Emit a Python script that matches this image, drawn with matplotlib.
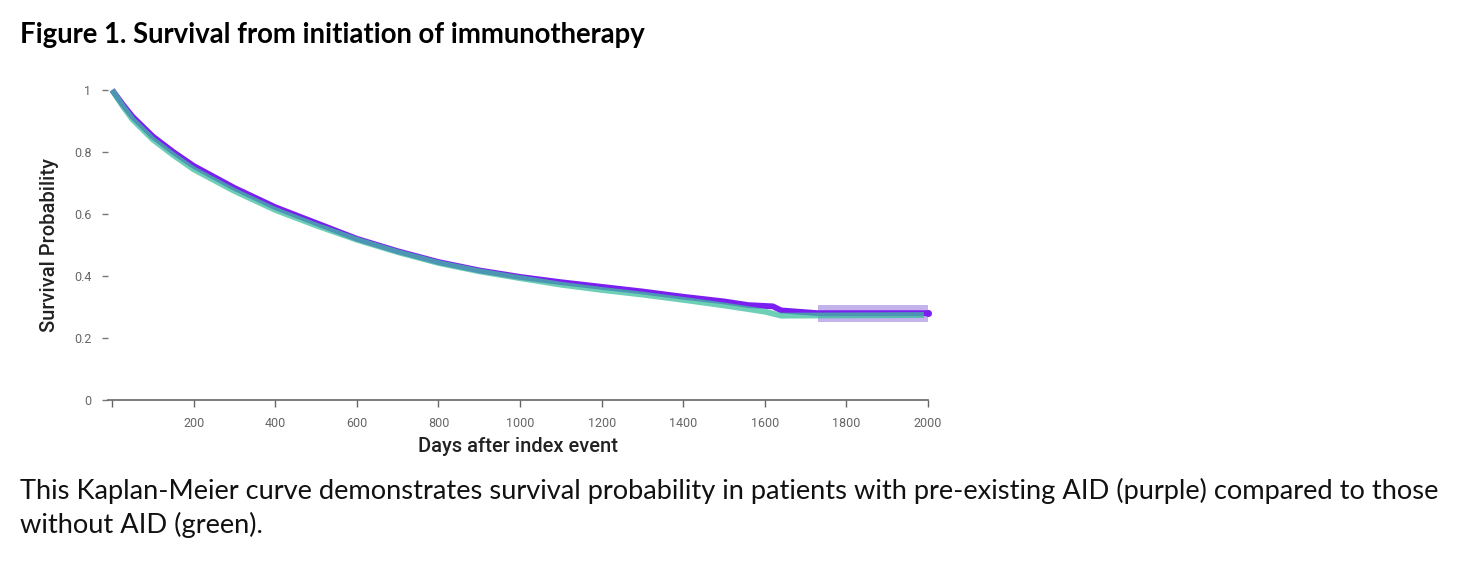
import matplotlib
matplotlib.use("Agg")
import matplotlib.pyplot as plt

# Kaplan-Meier estimates
days_aid = [0, 25, 50, 100, 150, 200, 300, 400, 500, 600, 700, 800, 900, 1000,
            1100, 1200, 1300, 1400, 1500, 1560, 1620, 1640, 1730, 2000]
surv_aid = [1.0, 0.955, 0.914, 0.85, 0.80, 0.755, 0.684, 0.622, 0.571, 0.52, 0.48,
            0.445, 0.418, 0.397, 0.38, 0.365, 0.35, 0.333, 0.318, 0.306, 0.302, 0.289, 0.28, 0.28]
ci_days = [1730, 2000]
ci_lo = [0.252, 0.252]
ci_hi = [0.306, 0.306]

days_no = [0, 25, 50, 100, 150, 200, 300, 400, 500, 600, 700, 800, 900, 1000,
           1100, 1200, 1300, 1400, 1500, 1600, 1640, 1990]
surv_no = [1.0, 0.95, 0.905, 0.84, 0.79, 0.744, 0.674, 0.613, 0.563, 0.517, 0.477,
           0.442, 0.415, 0.393, 0.372, 0.355, 0.34, 0.323, 0.305, 0.285, 0.272, 0.274]

xticks = [0, 200, 400, 600, 800, 1000, 1200, 1400, 1600, 1800, 2000]
xlabels = [""] + [str(t) for t in xticks[1:]]
yticks = [0, 0.2, 0.4, 0.6, 0.8, 1]
ylabels = ["0", "0.2", "0.4", "0.6", "0.8", "1"]

PURPLE = "#7b1ff0"
GREEN = "#3dbf9f"

fig = plt.figure(figsize=(14.76, 5.84), dpi=100)
ax = fig.add_axes([0.0732, 0.3151, 0.5555, 0.5308])

ax.fill_between(ci_days, ci_lo, ci_hi, color="#9b7fe0", alpha=0.6, lw=0)
ax.plot(days_aid, surv_aid, color=PURPLE, lw=4.2, solid_capstyle="butt", clip_on=False)
ax.plot(days_no, surv_no, color=GREEN, lw=4.2, alpha=0.75, solid_capstyle="butt", clip_on=False)
ax.plot([days_aid[-1]], [surv_aid[-1]], "o", color=PURPLE, ms=4, clip_on=False)

ax.set_xlim(-10, 2000)
ax.set_ylim(0, 1)
for s in ["top", "right", "left"]:
    ax.spines[s].set_visible(False)
ax.spines["bottom"].set_color("#666")
ax.spines["bottom"].set_linewidth(1.2)
ax.set_xticks(xticks)
ax.set_xticklabels(xlabels)
ax.set_yticks(yticks)
ax.set_yticklabels(ylabels)
ax.tick_params(axis="x", length=5, width=1, color="#666", labelsize=9, labelcolor="#666", pad=7)
ax.tick_params(axis="y", length=4, width=1, color="#777", labelsize=9, labelcolor="#666", pad=8)
for lab in ax.get_xticklabels() + ax.get_yticklabels():
    lab.set_family("Roboto")
ax.set_xlabel("Days after index event", family="Roboto", fontsize=14.5, fontweight="medium",
              color="#222", labelpad=5)
ax.set_ylabel("Survival Probability", family="Roboto", fontsize=14.5, fontweight="medium",
              color="#222", labelpad=11)

fig.text(20 / 1476, 1 - 35 / 584, "Figure 1. Survival from initiation of immunotherapy",
         family="Lato", fontweight="bold", fontsize=19.8, va="center", ha="left")
fig.text(20 / 1476, 1 - 491 / 584,
         "This Kaplan-Meier curve demonstrates survival probability in patients with pre-existing AID (purple) compared to those",
         family="Lato", fontsize=19.6, va="center", ha="left", color="#111")
fig.text(20 / 1476, 1 - 525 / 584, "without AID (green).",
         family="Lato", fontsize=19.6, va="center", ha="left", color="#111")

fig.savefig("out.png", dpi=100)
